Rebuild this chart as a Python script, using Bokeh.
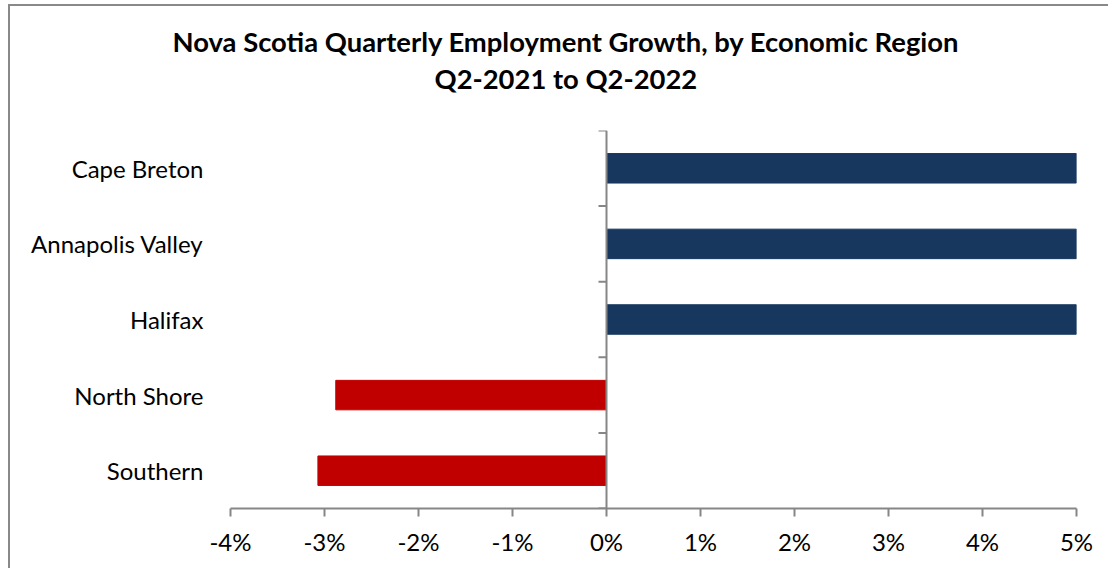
from bokeh.plotting import figure
from bokeh.models import FactorRange, Range1d, FixedTicker, PrintfTickFormatter, Span, ColumnDataSource, Title
from bokeh.embed import file_html
from bokeh.resources import INLINE

# ---- data ----
regions = ["Cape Breton", "Annapolis Valley", "Halifax", "North Shore", "Southern"]
growth = [5.0, 5.0, 5.0, -2.88, -3.07]   # % change, Q2-2021 to Q2-2022 (positive bars reach axis end)
x_ticks = [-4, -3, -2, -1, 0, 1, 2, 3, 4, 5]
title_lines = ["Nova Scotia Quarterly Employment Growth, by Economic Region", "Q2-2021 to Q2-2022"]

POS = "#17375E"
NEG = "#C00000"
AXIS = "#868686"
FONT = "Lato"

colors = [POS if v >= 0 else NEG for v in growth]
src = ColumnDataSource(dict(region=regions, growth=growth, color=colors))

x_min, x_max = x_ticks[0], x_ticks[-1]
W, H = 1100, 564
ML, MR, MT, MB = 220, 34, 124, 62

p = figure(width=W, height=H, output_backend="svg", toolbar_location=None,
           y_range=FactorRange(factors=list(reversed(regions))),
           x_range=Range1d(x_min, x_max),
           min_border_left=ML, min_border_right=MR, min_border_top=MT, min_border_bottom=MB,
           styles={"margin-left": "8px", "margin-top": "4px",
                   "border-left": "2px solid #898989", "border-top": "2px solid #898989"})

p.hbar(y="region", right="growth", left=0, height=0.39, color="color", source=src)

# vertical axis at zero
p.add_layout(Span(location=0, dimension="height", line_color=AXIS, line_width=2))
frame_w = W - ML - MR
tick_len = 8 * (x_max - x_min) / frame_w
bounds = list(range(len(regions) + 1))
p.segment(x0=[0] * len(bounds), x1=[-tick_len] * len(bounds), y0=bounds, y1=bounds,
          line_color=AXIS, line_width=2)

# category labels
ya = p.yaxis[0]
ya.axis_line_color = None
ya.major_tick_line_color = None
ya.minor_tick_line_color = None
ya.major_label_standoff = 21
ya.major_label_text_font = FONT
ya.major_label_text_font_size = "24px"
ya.major_label_text_color = "#000000"

xa = p.xaxis[0]
xa.ticker = FixedTicker(ticks=x_ticks)
xa.formatter = PrintfTickFormatter(format="%d%%")
xa.axis_line_color = AXIS
xa.axis_line_width = 2
xa.major_tick_line_color = AXIS
xa.major_tick_line_width = 2
xa.major_tick_in = 0
xa.major_tick_out = 8
xa.minor_tick_line_color = None
xa.major_label_standoff = 10
xa.major_label_text_font = FONT
xa.major_label_text_font_size = "24px"
xa.major_label_text_color = "#000000"

p.xgrid.grid_line_color = None
p.ygrid.grid_line_color = None
p.outline_line_color = None

# title: two centred lines stacked above the frame (first added sits nearest the frame)
p.title.visible = False
title_style = dict(align="left", text_font=FONT, text_font_style="bold",
                   text_font_size="27.4px", text_color="#000000")
spacer = Title(text=" ", standoff=1, **title_style)
t2 = Title(text=title_lines[1], offset=204, standoff=0, **title_style)
t1 = Title(text=title_lines[0], offset=-58, standoff=3, **title_style)
p.add_layout(spacer, "above")
p.add_layout(t2, "above")
p.add_layout(t1, "above")

open("out.html", "w").write(file_html(p, INLINE))
